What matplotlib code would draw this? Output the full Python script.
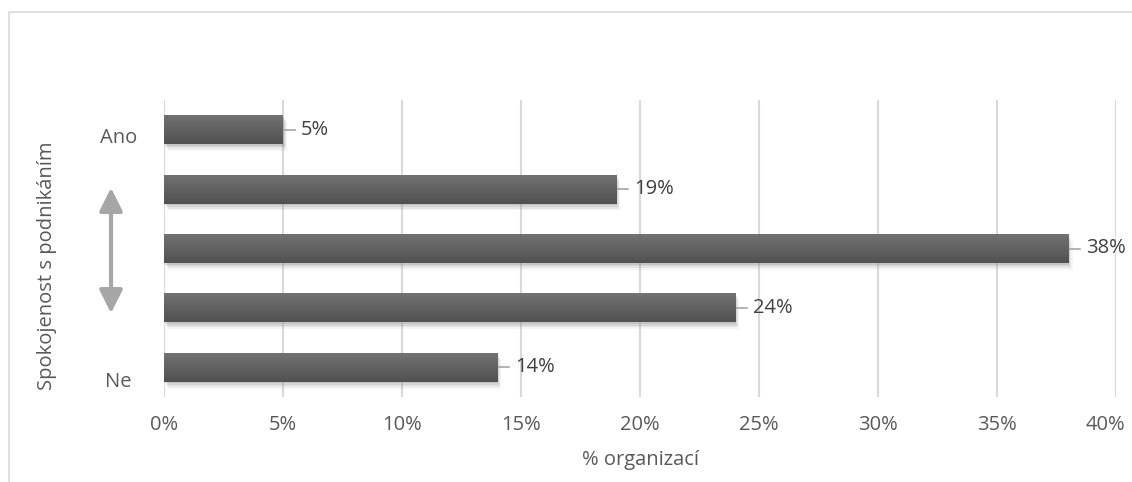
import numpy as np
import matplotlib
matplotlib.use("Agg")
import matplotlib.pyplot as plt
import matplotlib.patheffects as pe
import matplotlib.transforms as mtrans
from matplotlib.patches import FancyArrowPatch, Rectangle

plt.rcParams['font.family'] = ['Open Sans', 'DejaVu Sans']

# odpovědi od "Ne" (dole) po "Ano" (nahoře)
values = [14, 24, 38, 19, 5]
end_labels = ["Ne", "Ano"]
xticks = [0, 5, 10, 15, 20, 25, 30, 35, 40]

text_col = "#595959"
grid_col = "#d9d9d9"
fs = 14.5

fig = plt.figure(figsize=(11.32, 4.82), dpi=100)
ax = fig.add_axes([164 / 1132, 85 / 482, 952 / 1132, 297 / 482])

# rámeček kolem grafu
fig.patches.append(Rectangle((8.5 / 1132, -0.05), 1.2, 1.05 - 12 / 482,
                             transform=fig.transFigure, fill=False,
                             edgecolor="#d9d9d9", linewidth=1.2))

y = np.arange(len(values))
bar_h = 0.49

# přechod v barvě sloupce (shora světlejší)
grad = np.linspace(0, 1, 50).reshape(-1, 1)
cmap = matplotlib.colors.LinearSegmentedColormap.from_list("g", ["#737373", "#515151"])

shadow = [pe.SimplePatchShadow(offset=(o, -o * 1.6), shadow_rgbFace="#808080", alpha=a)
          for o, a in [(3.0, 0.08), (2.2, 0.12), (1.4, 0.16), (0.7, 0.2)]]

for yi, v in zip(y, values):
    bar = ax.barh(yi, v, height=bar_h, color="#5f5f5f", zorder=3,
                  path_effects=shadow + [pe.Normal()])[0]
    im = ax.imshow(grad, cmap=cmap, aspect="auto", zorder=4,
                   extent=[0, v, yi - bar_h / 2, yi + bar_h / 2])
    im.set_clip_path(bar)
    # vynášecí čára a popisek hodnoty
    ax.plot([v + 0.05, v + 0.5], [yi, yi], color="#a6a6a6", lw=1.2, zorder=3)
    ax.text(v + 0.75, yi, f"{v}%", va="center", ha="left", fontsize=fs, color="#404040")

ax.set_xlim(0, 40)
ax.set_ylim(-0.5, len(values) - 0.5)
ax.set_xticks(xticks)
ax.set_xticklabels([f"{t}%" for t in xticks])
ax.set_yticks([-0.2, len(values) - 1.1])
ax.set_yticklabels(end_labels, ha="center")
ax.grid(axis="x", color=grid_col, lw=1.5, zorder=0)
ax.set_axisbelow(True)
for s in ax.spines.values():
    s.set_visible(False)
ax.tick_params(length=0, labelsize=fs, labelcolor=text_col)
ax.tick_params(axis="x", pad=13)
ax.tick_params(axis="y", pad=33)

# poslední popisek osy posunout dovnitř, aby nepřetekl okraj
last = ax.get_xticklabels()[-1]
last.set_transform(last.get_transform() + mtrans.ScaledTranslation(-11 / 100, 0, fig.dpi_scale_trans))

ax.set_xlabel("% organizací", fontsize=fs, color=text_col, labelpad=11)
fig.text(47 / 1132, 1 - 266 / 482, "Spokojenost s podnikáním", rotation=90,
         ha="center", va="center", fontsize=fs, color=text_col)

# obousměrná šipka mezi Ano a Ne
arrow = FancyArrowPatch((111 / 1132, 1 - 185 / 482), (111 / 1132, 1 - 316 / 482),
                        transform=fig.transFigure, arrowstyle="<|-|>,head_length=1.0,head_width=0.5",
                        mutation_scale=14, color="#a6a6a6", lw=3)
fig.patches.append(arrow)

fig.savefig("out.png", dpi=100)
